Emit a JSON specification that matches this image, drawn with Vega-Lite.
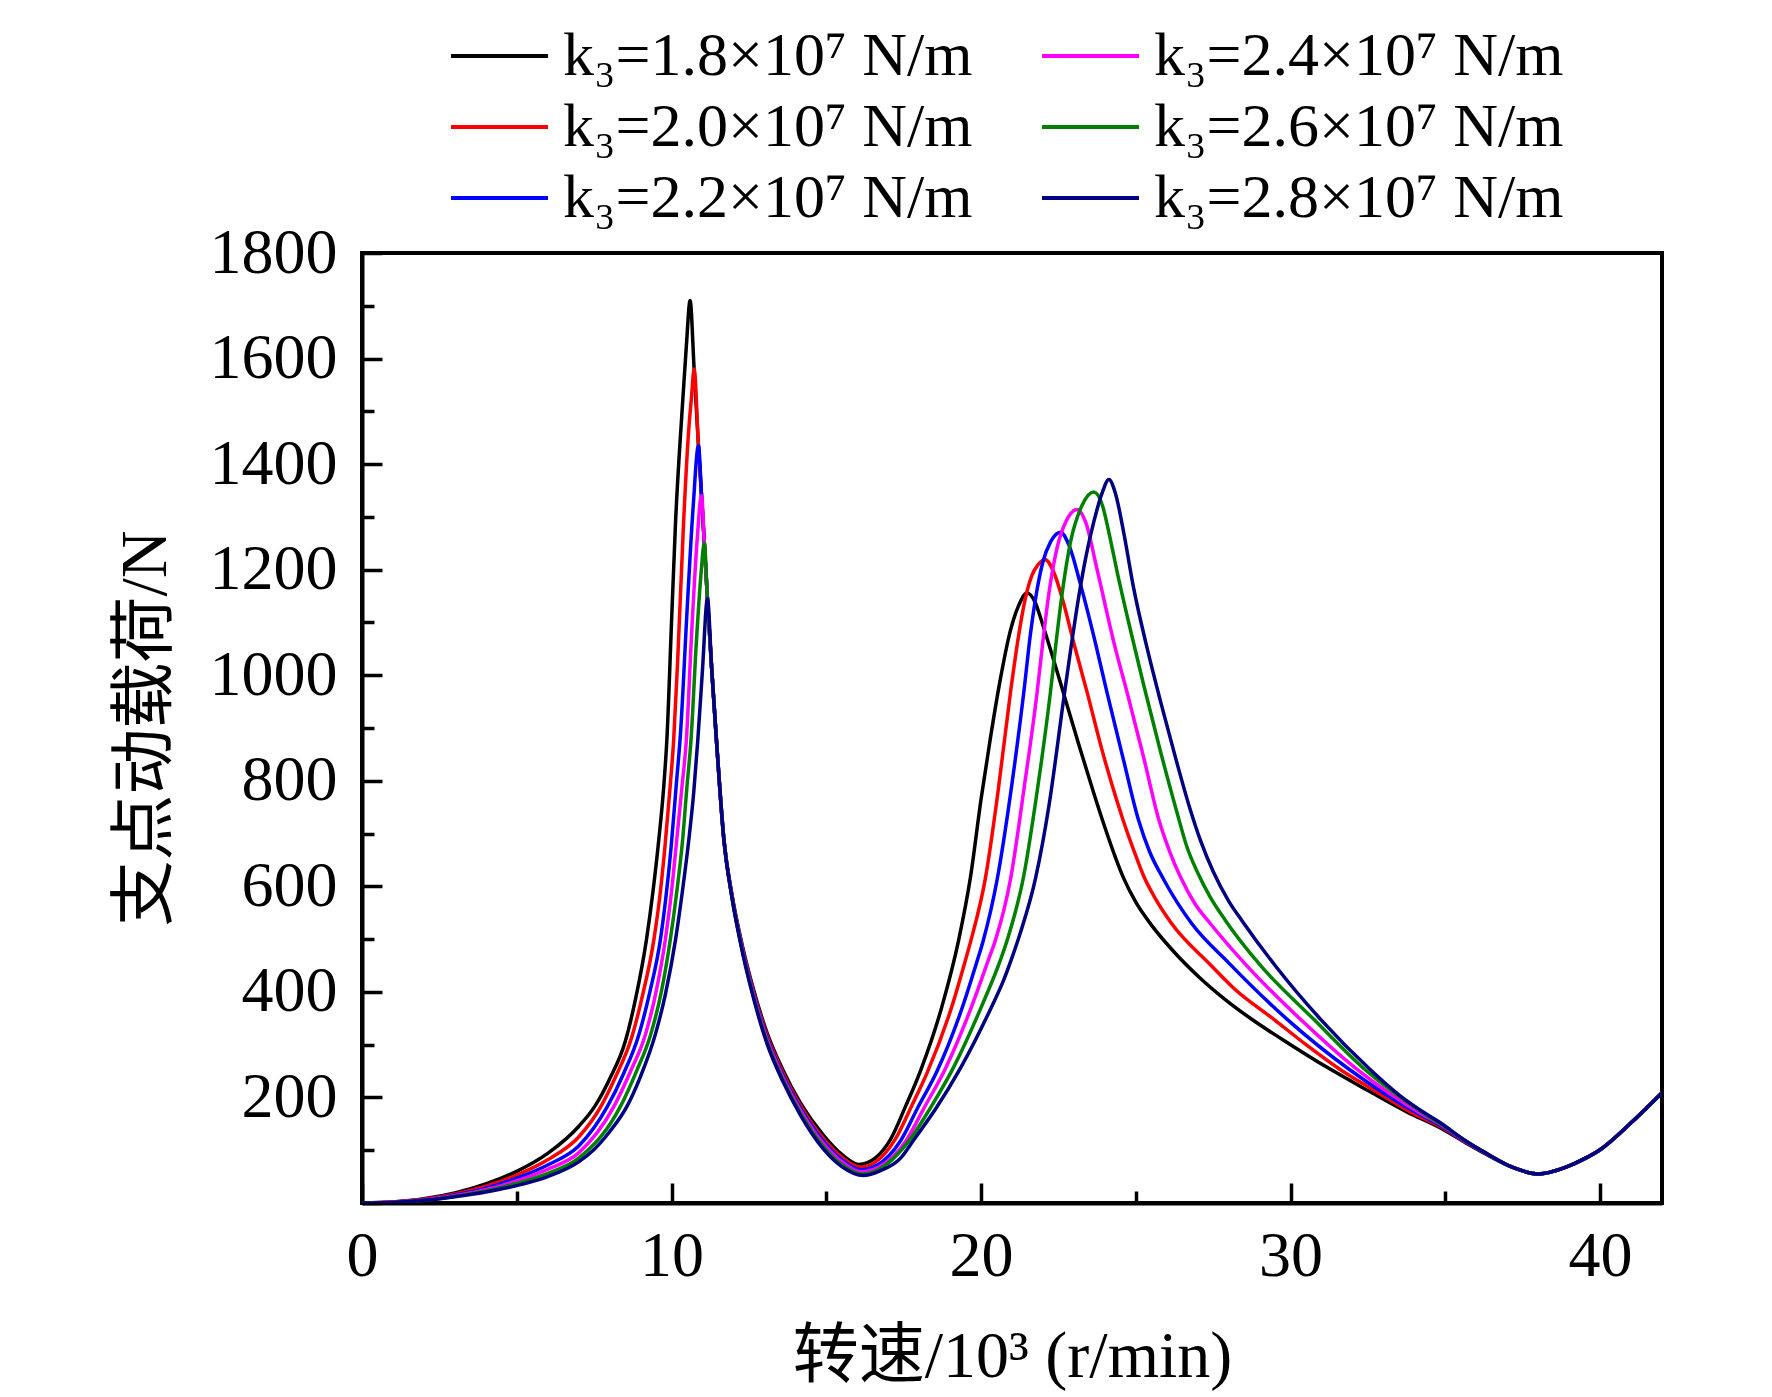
{
  "$schema": "https://vega.github.io/schema/vega-lite/v6.json",
  "width": 1300,
  "height": 950,
  "autosize": {"type": "none"},
  "padding": {"left": 362, "top": 253, "right": 110, "bottom": 194},
  "background": "white",
  "config": {
    "view": {"stroke": "black", "strokeWidth": 4},
    "font": "Liberation Serif",
    "axis": {
      "domainColor": "black", "domainWidth": 4, "tickColor": "black", "tickWidth": 3.5,
      "labelFont": "Liberation Serif", "labelFontSize": 64, "labelColor": "black", "labelFlush": false,
      "titleFont": "Liberation Serif, Noto Sans CJK SC", "titleFontSize": 66, "titleFontWeight": "normal", "titleColor": "black",
      "grid": false
    }
  },
  "data": {"values": [
{"k":"1.8","x":0,"y":0},{"k":"1.8","x":1,"y":2},{"k":"1.8","x":2,"y":8},{"k":"1.8","x":3,"y":19},{"k":"1.8","x":4,"y":36},{"k":"1.8","x":5,"y":60},{"k":"1.8","x":6,"y":94},{"k":"1.8","x":7,"y":145},{"k":"1.8","x":7.52,"y":183},{"k":"1.8","x":8,"y":235},{"k":"1.8","x":8.5,"y":305},{"k":"1.8","x":8.85,"y":390},{"k":"1.8","x":9.19,"y":499},{"k":"1.8","x":9.4,"y":590},{"k":"1.8","x":9.59,"y":689},{"k":"1.8","x":9.75,"y":790},{"k":"1.8","x":9.85,"y":878},{"k":"1.8","x":10,"y":1100},{"k":"1.8","x":10.13,"y":1290},{"k":"1.8","x":10.34,"y":1500},{"k":"1.8","x":10.48,"y":1625},{"k":"1.8","x":10.6,"y":1710},{"k":"1.8","x":10.73,"y":1580},{"k":"1.8","x":10.87,"y":1435},{"k":"1.8","x":10.97,"y":1340},{"k":"1.8","x":11.06,"y":1250},{"k":"1.8","x":11.16,"y":1145},{"k":"1.8","x":11.3,"y":1010},{"k":"1.8","x":11.45,"y":878},{"k":"1.8","x":11.69,"y":690},{"k":"1.8","x":11.95,"y":585},{"k":"1.8","x":12.23,"y":503},{"k":"1.8","x":12.6,"y":415},{"k":"1.8","x":13.09,"y":322},{"k":"1.8","x":13.6,"y":252},{"k":"1.8","x":14.16,"y":190},{"k":"1.8","x":14.91,"y":128},{"k":"1.8","x":15.5,"y":92},{"k":"1.8","x":16.05,"y":73},{"k":"1.8","x":16.6,"y":86},{"k":"1.8","x":17.07,"y":120},{"k":"1.8","x":17.56,"y":183},{"k":"1.8","x":18.04,"y":250},{"k":"1.8","x":18.74,"y":373},{"k":"1.8","x":19.28,"y":499},{"k":"1.8","x":19.66,"y":618},{"k":"1.8","x":20,"y":765},{"k":"1.8","x":20.3,"y":880},{"k":"1.8","x":20.6,"y":985},{"k":"1.8","x":20.95,"y":1085},{"k":"1.8","x":21.2,"y":1130},{"k":"1.8","x":21.49,"y":1156},{"k":"1.8","x":21.75,"y":1138},{"k":"1.8","x":21.97,"y":1100},{"k":"1.8","x":22.34,"y":1030},{"k":"1.8","x":22.67,"y":965},{"k":"1.8","x":23.15,"y":870},{"k":"1.8","x":23.64,"y":777},{"k":"1.8","x":24,"y":712},{"k":"1.8","x":24.34,"y":655},{"k":"1.8","x":24.61,"y":615},{"k":"1.8","x":25,"y":570},{"k":"1.8","x":25.5,"y":527},{"k":"1.8","x":26.2,"y":478},{"k":"1.8","x":27.1,"y":425},{"k":"1.8","x":27.9,"y":385},{"k":"1.8","x":28.7,"y":350},{"k":"1.8","x":30,"y":300},{"k":"1.8","x":31.18,"y":257},{"k":"1.8","x":32.5,"y":213},{"k":"1.8","x":33.77,"y":172},{"k":"1.8","x":34.84,"y":142},{"k":"1.8","x":35.6,"y":116},{"k":"1.8","x":36.24,"y":95},{"k":"1.8","x":37.2,"y":67},{"k":"1.8","x":38,"y":55},{"k":"1.8","x":38.9,"y":68},{"k":"1.8","x":39.5,"y":84},{"k":"1.8","x":40,"y":101},{"k":"1.8","x":41,"y":152},{"k":"1.8","x":42,"y":209},
{"k":"2.0","x":0,"y":0},{"k":"2.0","x":1,"y":2},{"k":"2.0","x":2,"y":7},{"k":"2.0","x":3,"y":17},{"k":"2.0","x":4,"y":32},{"k":"2.0","x":5,"y":53},{"k":"2.0","x":6,"y":82},{"k":"2.0","x":7,"y":125},{"k":"2.0","x":7.72,"y":183},{"k":"2.0","x":8.2,"y":240},{"k":"2.0","x":8.72,"y":315},{"k":"2.0","x":9.05,"y":390},{"k":"2.0","x":9.43,"y":499},{"k":"2.0","x":9.62,"y":580},{"k":"2.0","x":9.78,"y":670},{"k":"2.0","x":9.95,"y":785},{"k":"2.0","x":10.07,"y":878},{"k":"2.0","x":10.2,"y":1030},{"k":"2.0","x":10.39,"y":1290},{"k":"2.0","x":10.55,"y":1460},{"k":"2.0","x":10.65,"y":1530},{"k":"2.0","x":10.73,"y":1580},{"k":"2.0","x":10.87,"y":1435},{"k":"2.0","x":10.97,"y":1340},{"k":"2.0","x":11.06,"y":1250},{"k":"2.0","x":11.16,"y":1145},{"k":"2.0","x":11.3,"y":1010},{"k":"2.0","x":11.45,"y":878},{"k":"2.0","x":11.69,"y":690},{"k":"2.0","x":11.95,"y":584},{"k":"2.0","x":12.23,"y":500},{"k":"2.0","x":12.6,"y":411},{"k":"2.0","x":13.09,"y":317},{"k":"2.0","x":13.6,"y":247},{"k":"2.0","x":14.16,"y":185},{"k":"2.0","x":14.91,"y":122},{"k":"2.0","x":15.5,"y":87},{"k":"2.0","x":16.1,"y":68},{"k":"2.0","x":16.6,"y":78},{"k":"2.0","x":17.22,"y":120},{"k":"2.0","x":17.75,"y":183},{"k":"2.0","x":18.26,"y":247},{"k":"2.0","x":19.06,"y":373},{"k":"2.0","x":19.5,"y":461},{"k":"2.0","x":19.68,"y":499},{"k":"2.0","x":20.14,"y":615},{"k":"2.0","x":20.55,"y":780},{"k":"2.0","x":20.95,"y":967},{"k":"2.0","x":21.2,"y":1070},{"k":"2.0","x":21.43,"y":1145},{"k":"2.0","x":21.65,"y":1190},{"k":"2.0","x":21.85,"y":1210},{"k":"2.0","x":22.08,"y":1219},{"k":"2.0","x":22.35,"y":1195},{"k":"2.0","x":22.65,"y":1140},{"k":"2.0","x":23,"y":1060},{"k":"2.0","x":23.43,"y":967},{"k":"2.0","x":23.9,"y":860},{"k":"2.0","x":24.4,"y":760},{"k":"2.0","x":24.58,"y":727},{"k":"2.0","x":25.05,"y":650},{"k":"2.0","x":25.25,"y":620},{"k":"2.0","x":25.6,"y":580},{"k":"2.0","x":26.15,"y":530},{"k":"2.0","x":27.4,"y":452},{"k":"2.0","x":28.2,"y":405},{"k":"2.0","x":29.46,"y":348},{"k":"2.0","x":30.5,"y":300},{"k":"2.0","x":31.6,"y":253},{"k":"2.0","x":32.8,"y":210},{"k":"2.0","x":33.95,"y":170},{"k":"2.0","x":34.84,"y":145},{"k":"2.0","x":35.6,"y":117},{"k":"2.0","x":36.24,"y":96},{"k":"2.0","x":37.2,"y":67},{"k":"2.0","x":38,"y":55},{"k":"2.0","x":38.9,"y":68},{"k":"2.0","x":39.5,"y":84},{"k":"2.0","x":40,"y":101},{"k":"2.0","x":41,"y":152},{"k":"2.0","x":42,"y":209},
{"k":"2.2","x":0,"y":0},{"k":"2.2","x":1,"y":1.5},{"k":"2.2","x":2,"y":6},{"k":"2.2","x":3,"y":15},{"k":"2.2","x":4,"y":28},{"k":"2.2","x":5,"y":47},{"k":"2.2","x":6,"y":72},{"k":"2.2","x":7,"y":108},{"k":"2.2","x":7.93,"y":183},{"k":"2.2","x":8.45,"y":245},{"k":"2.2","x":8.94,"y":318},{"k":"2.2","x":9.3,"y":400},{"k":"2.2","x":9.64,"y":499},{"k":"2.2","x":9.82,"y":580},{"k":"2.2","x":9.98,"y":670},{"k":"2.2","x":10.15,"y":790},{"k":"2.2","x":10.29,"y":890},{"k":"2.2","x":10.5,"y":1120},{"k":"2.2","x":10.7,"y":1320},{"k":"2.2","x":10.87,"y":1435},{"k":"2.2","x":10.97,"y":1340},{"k":"2.2","x":11.06,"y":1250},{"k":"2.2","x":11.16,"y":1145},{"k":"2.2","x":11.3,"y":1010},{"k":"2.2","x":11.45,"y":878},{"k":"2.2","x":11.69,"y":690},{"k":"2.2","x":11.95,"y":582},{"k":"2.2","x":12.23,"y":498},{"k":"2.2","x":12.6,"y":408},{"k":"2.2","x":13.09,"y":313},{"k":"2.2","x":13.6,"y":242},{"k":"2.2","x":14.16,"y":180},{"k":"2.2","x":14.91,"y":117},{"k":"2.2","x":15.5,"y":82},{"k":"2.2","x":16.1,"y":63},{"k":"2.2","x":16.65,"y":72},{"k":"2.2","x":17.4,"y":118},{"k":"2.2","x":17.95,"y":180},{"k":"2.2","x":18.58,"y":250},{"k":"2.2","x":19.38,"y":368},{"k":"2.2","x":19.87,"y":458},{"k":"2.2","x":20.07,"y":497},{"k":"2.2","x":20.52,"y":613},{"k":"2.2","x":21,"y":795},{"k":"2.2","x":21.38,"y":967},{"k":"2.2","x":21.6,"y":1080},{"k":"2.2","x":21.76,"y":1145},{"k":"2.2","x":22,"y":1215},{"k":"2.2","x":22.25,"y":1253},{"k":"2.2","x":22.57,"y":1271},{"k":"2.2","x":22.85,"y":1245},{"k":"2.2","x":23.2,"y":1175},{"k":"2.2","x":23.7,"y":1060},{"k":"2.2","x":24.07,"y":967},{"k":"2.2","x":24.6,"y":840},{"k":"2.2","x":25.08,"y":727},{"k":"2.2","x":25.45,"y":665},{"k":"2.2","x":25.9,"y":613},{"k":"2.2","x":26.8,"y":530},{"k":"2.2","x":28,"y":455},{"k":"2.2","x":29.89,"y":348},{"k":"2.2","x":31.9,"y":253},{"k":"2.2","x":34.1,"y":170},{"k":"2.2","x":34.84,"y":147},{"k":"2.2","x":35.6,"y":118},{"k":"2.2","x":36.24,"y":96},{"k":"2.2","x":37.2,"y":67},{"k":"2.2","x":38,"y":55},{"k":"2.2","x":38.9,"y":68},{"k":"2.2","x":39.5,"y":84},{"k":"2.2","x":40,"y":101},{"k":"2.2","x":41,"y":152},{"k":"2.2","x":42,"y":209},
{"k":"2.4","x":0,"y":0},{"k":"2.4","x":1,"y":1.5},{"k":"2.4","x":2,"y":6},{"k":"2.4","x":3,"y":14},{"k":"2.4","x":4,"y":25},{"k":"2.4","x":5,"y":42},{"k":"2.4","x":6,"y":64},{"k":"2.4","x":7,"y":95},{"k":"2.4","x":8.14,"y":183},{"k":"2.4","x":8.68,"y":250},{"k":"2.4","x":9.15,"y":318},{"k":"2.4","x":9.5,"y":400},{"k":"2.4","x":9.8,"y":499},{"k":"2.4","x":10,"y":590},{"k":"2.4","x":10.17,"y":689},{"k":"2.4","x":10.34,"y":790},{"k":"2.4","x":10.48,"y":878},{"k":"2.4","x":10.65,"y":1080},{"k":"2.4","x":10.82,"y":1250},{"k":"2.4","x":10.97,"y":1340},{"k":"2.4","x":11.06,"y":1250},{"k":"2.4","x":11.16,"y":1145},{"k":"2.4","x":11.3,"y":1010},{"k":"2.4","x":11.45,"y":878},{"k":"2.4","x":11.69,"y":690},{"k":"2.4","x":11.95,"y":581},{"k":"2.4","x":12.23,"y":496},{"k":"2.4","x":12.6,"y":405},{"k":"2.4","x":13.09,"y":309},{"k":"2.4","x":13.6,"y":238},{"k":"2.4","x":14.16,"y":176},{"k":"2.4","x":14.91,"y":112},{"k":"2.4","x":15.5,"y":78},{"k":"2.4","x":16.1,"y":59},{"k":"2.4","x":16.7,"y":68},{"k":"2.4","x":17.6,"y":120},{"k":"2.4","x":18.14,"y":178},{"k":"2.4","x":18.85,"y":255},{"k":"2.4","x":19.7,"y":373},{"k":"2.4","x":20.24,"y":461},{"k":"2.4","x":20.47,"y":499},{"k":"2.4","x":20.95,"y":613},{"k":"2.4","x":21.4,"y":790},{"k":"2.4","x":21.81,"y":967},{"k":"2.4","x":22,"y":1065},{"k":"2.4","x":22.18,"y":1150},{"k":"2.4","x":22.45,"y":1240},{"k":"2.4","x":22.75,"y":1292},{"k":"2.4","x":23.1,"y":1314},{"k":"2.4","x":23.38,"y":1290},{"k":"2.4","x":23.75,"y":1200},{"k":"2.4","x":24.3,"y":1060},{"k":"2.4","x":24.72,"y":967},{"k":"2.4","x":25.25,"y":845},{"k":"2.4","x":25.74,"y":727},{"k":"2.4","x":26.1,"y":665},{"k":"2.4","x":26.44,"y":618},{"k":"2.4","x":26.9,"y":568},{"k":"2.4","x":27.4,"y":530},{"k":"2.4","x":28.5,"y":455},{"k":"2.4","x":30.32,"y":348},{"k":"2.4","x":32.15,"y":253},{"k":"2.4","x":34.2,"y":170},{"k":"2.4","x":34.84,"y":149},{"k":"2.4","x":35.6,"y":119},{"k":"2.4","x":36.24,"y":97},{"k":"2.4","x":37.2,"y":67},{"k":"2.4","x":38,"y":55},{"k":"2.4","x":38.9,"y":68},{"k":"2.4","x":39.5,"y":84},{"k":"2.4","x":40,"y":101},{"k":"2.4","x":41,"y":152},{"k":"2.4","x":42,"y":209},
{"k":"2.6","x":0,"y":0},{"k":"2.6","x":1,"y":1},{"k":"2.6","x":2,"y":5},{"k":"2.6","x":3,"y":13},{"k":"2.6","x":4,"y":23},{"k":"2.6","x":5,"y":37},{"k":"2.6","x":6,"y":56},{"k":"2.6","x":7,"y":85},{"k":"2.6","x":8.35,"y":183},{"k":"2.6","x":8.87,"y":250},{"k":"2.6","x":9.32,"y":318},{"k":"2.6","x":9.67,"y":400},{"k":"2.6","x":9.96,"y":499},{"k":"2.6","x":10.17,"y":590},{"k":"2.6","x":10.36,"y":689},{"k":"2.6","x":10.5,"y":790},{"k":"2.6","x":10.63,"y":878},{"k":"2.6","x":10.8,"y":1060},{"k":"2.6","x":10.95,"y":1190},{"k":"2.6","x":11.06,"y":1250},{"k":"2.6","x":11.16,"y":1145},{"k":"2.6","x":11.3,"y":1010},{"k":"2.6","x":11.45,"y":878},{"k":"2.6","x":11.69,"y":690},{"k":"2.6","x":11.95,"y":580},{"k":"2.6","x":12.23,"y":494},{"k":"2.6","x":12.6,"y":402},{"k":"2.6","x":13.09,"y":305},{"k":"2.6","x":13.6,"y":234},{"k":"2.6","x":14.16,"y":171},{"k":"2.6","x":14.91,"y":107},{"k":"2.6","x":15.5,"y":73},{"k":"2.6","x":16.15,"y":55},{"k":"2.6","x":16.7,"y":64},{"k":"2.6","x":17.7,"y":120},{"k":"2.6","x":18.34,"y":178},{"k":"2.6","x":19.12,"y":258},{"k":"2.6","x":20.02,"y":373},{"k":"2.6","x":20.63,"y":461},{"k":"2.6","x":20.85,"y":499},{"k":"2.6","x":21.38,"y":620},{"k":"2.6","x":21.8,"y":775},{"k":"2.6","x":22.24,"y":967},{"k":"2.6","x":22.42,"y":1060},{"k":"2.6","x":22.62,"y":1155},{"k":"2.6","x":22.9,"y":1255},{"k":"2.6","x":23.25,"y":1320},{"k":"2.6","x":23.64,"y":1347},{"k":"2.6","x":23.92,"y":1322},{"k":"2.6","x":24.15,"y":1265},{"k":"2.6","x":24.4,"y":1195},{"k":"2.6","x":24.85,"y":1080},{"k":"2.6","x":25.26,"y":980},{"k":"2.6","x":25.8,"y":855},{"k":"2.6","x":26.33,"y":740},{"k":"2.6","x":26.65,"y":675},{"k":"2.6","x":26.98,"y":628},{"k":"2.6","x":27.4,"y":580},{"k":"2.6","x":27.9,"y":535},{"k":"2.6","x":29,"y":452},{"k":"2.6","x":30.75,"y":348},{"k":"2.6","x":32.4,"y":253},{"k":"2.6","x":34.3,"y":170},{"k":"2.6","x":34.84,"y":150},{"k":"2.6","x":35.6,"y":120},{"k":"2.6","x":36.24,"y":97},{"k":"2.6","x":37.2,"y":67},{"k":"2.6","x":38,"y":55},{"k":"2.6","x":38.9,"y":68},{"k":"2.6","x":39.5,"y":84},{"k":"2.6","x":40,"y":101},{"k":"2.6","x":41,"y":152},{"k":"2.6","x":42,"y":209},
{"k":"2.8","x":0,"y":0},{"k":"2.8","x":1,"y":1},{"k":"2.8","x":2,"y":5},{"k":"2.8","x":3,"y":12},{"k":"2.8","x":4,"y":21},{"k":"2.8","x":5,"y":33},{"k":"2.8","x":6,"y":50},{"k":"2.8","x":7,"y":78},{"k":"2.8","x":7.49,"y":101},{"k":"2.8","x":8,"y":135},{"k":"2.8","x":8.56,"y":183},{"k":"2.8","x":9,"y":240},{"k":"2.8","x":9.48,"y":320},{"k":"2.8","x":9.8,"y":395},{"k":"2.8","x":10.13,"y":499},{"k":"2.8","x":10.35,"y":590},{"k":"2.8","x":10.56,"y":689},{"k":"2.8","x":10.72,"y":780},{"k":"2.8","x":10.85,"y":878},{"k":"2.8","x":11,"y":1010},{"k":"2.8","x":11.16,"y":1145},{"k":"2.8","x":11.3,"y":1010},{"k":"2.8","x":11.45,"y":878},{"k":"2.8","x":11.69,"y":689},{"k":"2.8","x":11.95,"y":580},{"k":"2.8","x":12.23,"y":492},{"k":"2.8","x":12.6,"y":399},{"k":"2.8","x":13.09,"y":301},{"k":"2.8","x":13.6,"y":230},{"k":"2.8","x":14.16,"y":167},{"k":"2.8","x":14.91,"y":102},{"k":"2.8","x":15.5,"y":69},{"k":"2.8","x":16.2,"y":52},{"k":"2.8","x":16.7,"y":60},{"k":"2.8","x":17.4,"y":85},{"k":"2.8","x":17.83,"y":120},{"k":"2.8","x":18.53,"y":178},{"k":"2.8","x":19.33,"y":255},{"k":"2.8","x":20.35,"y":373},{"k":"2.8","x":20.7,"y":418},{"k":"2.8","x":21,"y":465},{"k":"2.8","x":21.27,"y":512},{"k":"2.8","x":21.76,"y":615},{"k":"2.8","x":22.2,"y":755},{"k":"2.8","x":22.67,"y":955},{"k":"2.8","x":22.92,"y":1058},{"k":"2.8","x":23.16,"y":1150},{"k":"2.8","x":23.4,"y":1228},{"k":"2.8","x":23.64,"y":1290},{"k":"2.8","x":23.91,"y":1345},{"k":"2.8","x":24.13,"y":1371},{"k":"2.8","x":24.34,"y":1345},{"k":"2.8","x":24.61,"y":1270},{"k":"2.8","x":24.93,"y":1165},{"k":"2.8","x":25.35,"y":1055},{"k":"2.8","x":25.8,"y":950},{"k":"2.8","x":26.3,"y":840},{"k":"2.8","x":26.76,"y":745},{"k":"2.8","x":27.1,"y":685},{"k":"2.8","x":27.5,"y":628},{"k":"2.8","x":28,"y":572},{"k":"2.8","x":28.43,"y":535},{"k":"2.8","x":29.5,"y":450},{"k":"2.8","x":30.97,"y":348},{"k":"2.8","x":32.57,"y":253},{"k":"2.8","x":33.5,"y":205},{"k":"2.8","x":34.4,"y":168},{"k":"2.8","x":34.84,"y":152},{"k":"2.8","x":35.6,"y":120},{"k":"2.8","x":36.24,"y":97},{"k":"2.8","x":37.2,"y":67},{"k":"2.8","x":38,"y":55},{"k":"2.8","x":38.9,"y":68},{"k":"2.8","x":39.5,"y":84},{"k":"2.8","x":40,"y":101},{"k":"2.8","x":41,"y":152},{"k":"2.8","x":42,"y":209}
  ]},
  "mark": {"type": "line", "interpolate": "monotone", "strokeWidth": 3.5, "clip": true},
  "encoding": {
    "x": {
      "field": "x", "type": "quantitative",
      "scale": {"domain": [0, 42], "nice": false, "zero": false},
      "axis": {
        "title": "转速/10³ (r/min)",
        "values": [0, 5, 10, 15, 20, 25, 30, 35, 40],
        "labelExpr": "datum.value % 10 === 0 ? datum.label : ''",
        "tickSize": {"condition": {"test": "datum.value % 10 === 0", "value": -20}, "value": -12},
        "labelPadding": 41,
        "titlePadding": 36
      }
    },
    "y": {
      "field": "y", "type": "quantitative",
      "scale": {"domain": [0, 1800], "nice": false},
      "axis": {
        "title": "支点动载荷/N",
        "values": [0, 100, 200, 300, 400, 500, 600, 700, 800, 900, 1000, 1100, 1200, 1300, 1400, 1500, 1600, 1700, 1800],
        "format": "d",
        "labelExpr": "datum.value % 200 === 0 && datum.value > 0 ? datum.label : ''",
        "tickSize": {"condition": {"test": "datum.value % 200 === 0", "value": -20}, "value": -12},
        "labelPadding": 45,
        "titlePadding": 30
      }
    },
    "color": {
      "field": "k", "type": "nominal",
      "scale": {
        "domain": ["1.8", "2.0", "2.2", "2.4", "2.6", "2.8"],
        "range": ["#000000", "#FF0000", "#0000FF", "#FF00FF", "#008000", "#000080"]
      },
      "legend": {
        "orient": "none", "legendX": 87, "legendY": -227,
        "columns": 2, "title": null,
        "symbolType": "stroke", "symbolSize": 9409, "symbolStrokeWidth": 4,
        "labelExpr": "'k₃=' + datum.label + '×10⁷ N/m'",
        "labelFont": "Liberation Serif", "labelFontSize": 62, "labelColor": "black",
        "labelOffset": 13, "labelLimit": 0,
        "columnPadding": 67, "rowPadding": 9, "clipHeight": 60, "padding": 0
      }
    }
  }
}
